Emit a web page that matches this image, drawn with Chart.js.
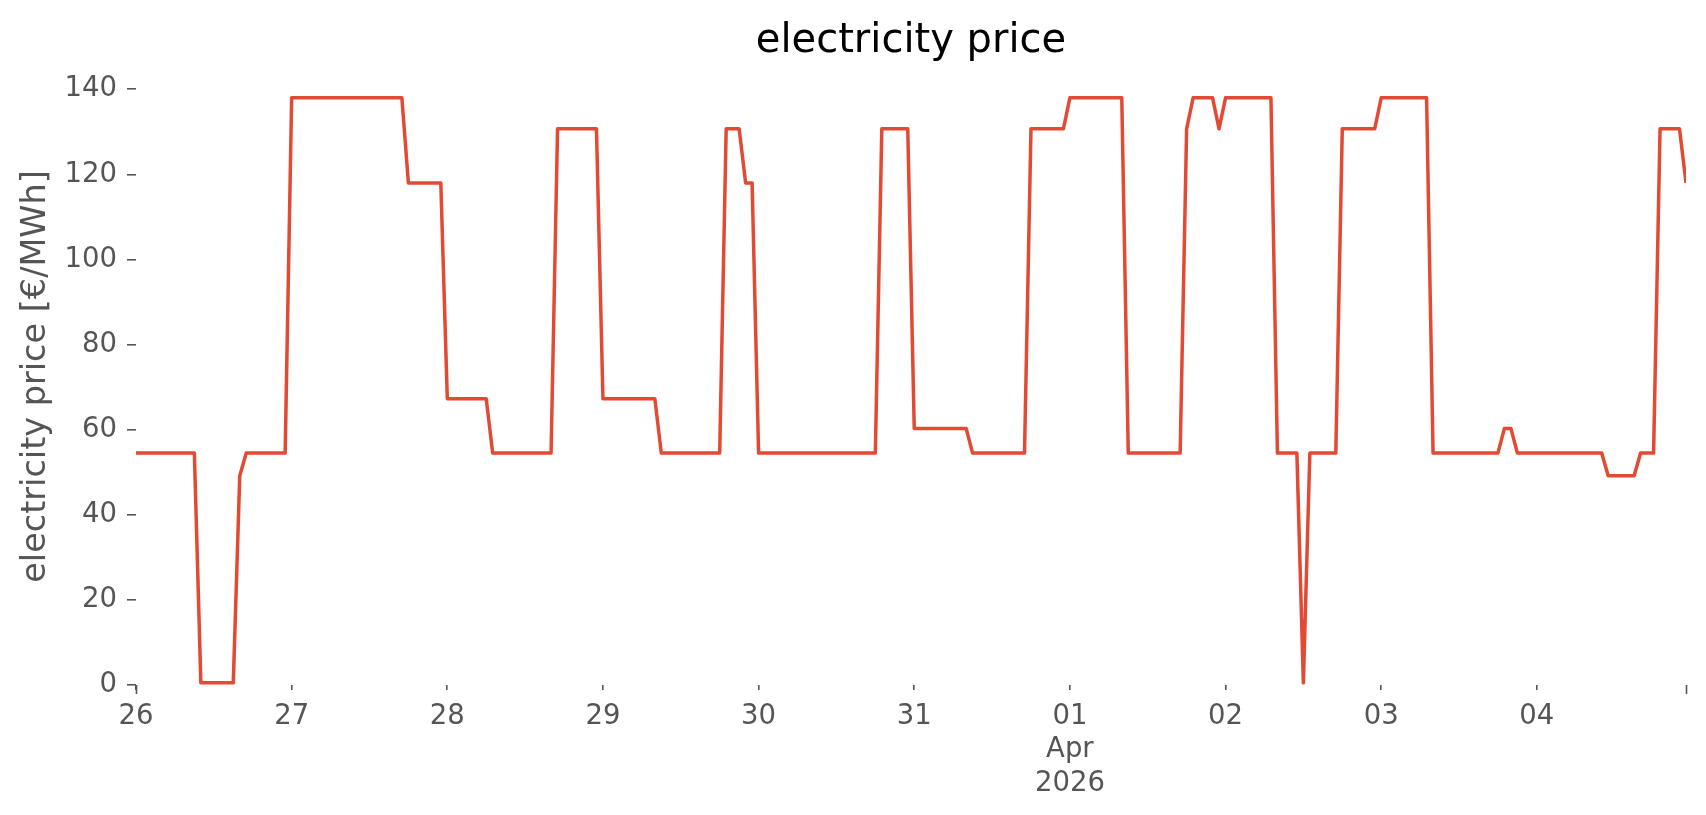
<!DOCTYPE html>
<html>
<head>
<meta charset="utf-8">
<script src="https://cdn.jsdelivr.net/npm/chart.js@4.4.1/dist/chart.umd.min.js"></script>
<style>
html, body { margin: 0; padding: 0; background: #ffffff; }
#wrap { width: 1706px; height: 815px; }
</style>
</head>
<body>
<div id="wrap"><canvas id="c" width="1706" height="815"></canvas></div>
<script>
// ---- data (hourly, 26 Mar 2026 00:00 .. 04 Apr 2026 23:00) ----
const chartTitle = 'electricity price';
const yAxisTitle = 'electricity price [€/MWh]';
const dayTickHours = [0, 24, 48, 72, 96, 120, 144, 168, 192, 216];
const dayTickLabels = ['26', '27', '28', '29', '30', '31', ['01', 'Apr', '2026'], '02', '03', '04'];
const yTickValues = [0, 20, 40, 60, 80, 100, 120, 140];

const pricesMar26 = [54.5,54.5,54.5,54.5,54.5,54.5,54.5,54.5,54.5,54.5,0.5,0.5,0.5,0.5,0.5,0.5,49.2,54.5,54.5,54.5,54.5,54.5,54.5,54.5];
const pricesMar27 = [138,138,138,138,138,138,138,138,138,138,138,138,138,138,138,138,138,138,118,118,118,118,118,118];
const pricesMar28 = [67.3,67.3,67.3,67.3,67.3,67.3,67.3,54.5,54.5,54.5,54.5,54.5,54.5,54.5,54.5,54.5,54.5,130.7,130.7,130.7,130.7,130.7,130.7,130.7];
const pricesMar29 = [67.3,67.3,67.3,67.3,67.3,67.3,67.3,67.3,67.3,54.5,54.5,54.5,54.5,54.5,54.5,54.5,54.5,54.5,54.5,130.7,130.7,130.7,118,118];
const pricesMar30 = [54.5,54.5,54.5,54.5,54.5,54.5,54.5,54.5,54.5,54.5,54.5,54.5,54.5,54.5,54.5,54.5,54.5,54.5,54.5,130.7,130.7,130.7,130.7,130.7];
const pricesMar31 = [60.3,60.3,60.3,60.3,60.3,60.3,60.3,60.3,60.3,54.5,54.5,54.5,54.5,54.5,54.5,54.5,54.5,54.5,130.7,130.7,130.7,130.7,130.7,130.7];
const pricesApr01 = [138,138,138,138,138,138,138,138,138,54.5,54.5,54.5,54.5,54.5,54.5,54.5,54.5,54.5,130.7,138,138,138,138,130.7];
const pricesApr02 = [138,138,138,138,138,138,138,138,54.5,54.5,54.5,54.5,0.5,54.5,54.5,54.5,54.5,54.5,130.7,130.7,130.7,130.7,130.7,130.7];
const pricesApr03 = [138,138,138,138,138,138,138,138,54.5,54.5,54.5,54.5,54.5,54.5,54.5,54.5,54.5,54.5,54.5,60.3,60.3,54.5,54.5,54.5];
const pricesApr04 = [54.5,54.5,54.5,54.5,54.5,54.5,54.5,54.5,54.5,54.5,54.5,49.2,49.2,49.2,49.2,49.2,54.5,54.5,54.5,130.7,130.7,130.7,130.7,118];

const prices = [].concat(pricesMar26, pricesMar27, pricesMar28, pricesMar29, pricesMar30,
                         pricesMar31, pricesApr01, pricesApr02, pricesApr03, pricesApr04);
const points = prices.map((v, i) => ({ x: i, y: v }));
const lastHour = prices.length - 1;

const FONT = "'DejaVu Sans', 'Liberation Sans', sans-serif";
const GREY = '#555555';

// title centered over the plotting area (matplotlib style)
const titlePlugin = {
  id: 'axTitle',
  afterDraw(chart) {
    const ctx = chart.ctx, a = chart.chartArea;
    ctx.save();
    ctx.font = "40px " + FONT;
    ctx.fillStyle = '#000000';
    ctx.textAlign = 'center';
    ctx.textBaseline = 'alphabetic';
    ctx.fillText(chartTitle, (a.left + a.right) / 2, 52);
    ctx.restore();
  }
};
// longer "major" tick marks at the two ends of the time axis
const majorTicks = {
  id: 'majorTicks',
  afterDraw(chart) {
    const ctx = chart.ctx, xs = chart.scales.x;
    ctx.save();
    ctx.strokeStyle = GREY;
    ctx.lineWidth = 1.6;
    [0, lastHour].forEach(h => {
      const px = Math.round(xs.getPixelForValue(h)) + 0.5;
      ctx.beginPath();
      ctx.moveTo(px, xs.top);
      ctx.lineTo(px, xs.top + 9);
      ctx.stroke();
    });
    ctx.restore();
  }
};

new Chart(document.getElementById('c'), {
  type: 'line',
  data: {
    datasets: [{
      data: points,
      borderColor: '#E24A33',
      borderWidth: 3.5,
      pointRadius: 0,
      tension: 0,
      fill: false,
      borderJoinStyle: 'round',
      borderCapStyle: 'butt'
    }]
  },
  options: {
    responsive: false,
    animation: false,
    devicePixelRatio: 1,
    layout: { padding: { top: 68, right: 20, bottom: 0, left: 0 } },
    plugins: { legend: { display: false }, title: { display: false }, tooltip: { enabled: false } },
    scales: {
      x: {
        type: 'linear',
        min: 0,
        max: lastHour,
        afterBuildTicks: (s) => { s.ticks = dayTickHours.map(v => ({ value: v })); },
        afterFit: (s) => { s.height = 130; },
        border: { display: false },
        grid: { display: true, drawOnChartArea: false, drawTicks: true, tickLength: 5, color: GREY, lineWidth: 1.6 },
        ticks: {
          autoSkip: false,
          maxRotation: 0,
          padding: 10,
          color: GREY,
          font: { family: FONT, size: 27.5, lineHeight: 1.22 },
          callback: (v) => { const i = dayTickHours.indexOf(v); return i >= 0 ? dayTickLabels[i] : null; }
        }
      },
      y: {
        type: 'linear',
        min: 0,
        max: 145,
        afterBuildTicks: (s) => { s.ticks = yTickValues.map(v => ({ value: v })); },
        afterFit: (s) => { s.width = 136; },
        border: { display: false },
        grid: { display: true, drawOnChartArea: false, drawTicks: true, tickLength: 9, color: GREY, lineWidth: 1.6 },
        ticks: {
          padding: 10,
          color: GREY,
          font: { family: FONT, size: 27.5 }
        },
        title: {
          display: true,
          text: yAxisTitle,
          color: GREY,
          font: { family: FONT, size: 33.5, lineHeight: 1.2 },
          padding: { top: 16, bottom: 0 }
        }
      }
    }
  },
  plugins: [titlePlugin, majorTicks]
});
</script>
</body>
</html>
